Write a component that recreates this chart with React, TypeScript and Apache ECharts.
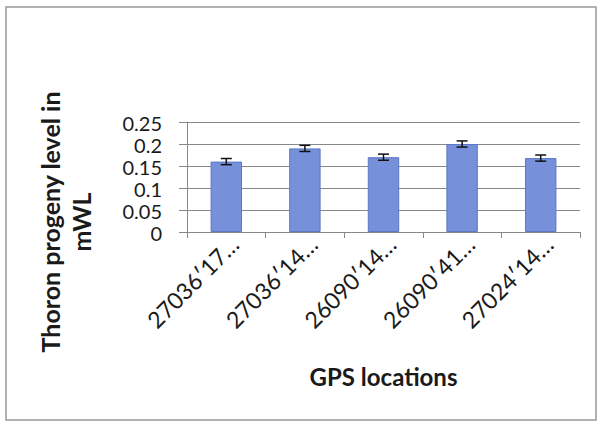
import React, { useEffect, useRef } from "react";
import * as echarts from "echarts";

const categories = ["27036′17…", "27036′14…", "26090′14…", "26090′41…", "27024′14…"];
const values = [0.16, 0.19, 0.17, 0.2, 0.168];
const errors = [0.007, 0.007, 0.007, 0.007, 0.007];
const yTickValues = [0, 0.05, 0.1, 0.15, 0.2, 0.25];
const yTickLabels = ["0", "0.05", "0.1", "0.15", "0.2", "0.25"];

export default function App() {
  const ref = useRef<HTMLDivElement>(null);
  useEffect(() => {
    if (!ref.current) return;
    const chart = echarts.init(ref.current, null, { renderer: "svg" });
    const errData = values.map((v, i) => [i, v - errors[i], v + errors[i]]);
    const baseGraphics: any[] = [
      {
        type: "rect",
        shape: { x: 6, y: 7, width: 590, height: 413 },
        style: { fill: "none", stroke: "#999", lineWidth: 1.5 },
      },
      {
        type: "text",
        x: 50,
        y: 222,
        rotation: Math.PI / 2,
        style: {
          text: "Thoron progeny level in",
          fontFamily: "Lato",
          fontWeight: "bold",
          fontSize: 25,
          fill: "#1a1a1a",
          align: "center",
          verticalAlign: "middle",
        },
      },
      {
        type: "text",
        x: 81,
        y: 222,
        rotation: Math.PI / 2,
        style: {
          text: "mWL",
          fontFamily: "Lato",
          fontWeight: "bold",
          fontSize: 25,
          fill: "#1a1a1a",
          align: "center",
          verticalAlign: "middle",
        },
      },
    ];
    chart.setOption({
      animation: false,
      backgroundColor: "#ffffff",
      grid: { left: 187, right: 19, top: 122, bottom: 192 },
      xAxis: {
        type: "category",
        data: categories,
        boundaryGap: true,
        axisLine: { lineStyle: { color: "#888", width: 1 } },
        axisTick: { show: true, length: 6, alignWithLabel: false, lineStyle: { color: "#888" } },
        axisLabel: {
          rotate: 45,
          interval: 0,
          margin: 0,
          verticalAlign: "top",
          fontFamily: "Lato",
          fontSize: 23,
          color: "#1a1a1a",
        },
        name: "GPS locations",
        nameLocation: "middle",
        nameGap: 132,
        nameTextStyle: { fontFamily: "Lato", fontWeight: "bold", fontSize: 24, color: "#1a1a1a" },
      },
      yAxis: {
        type: "value",
        min: yTickValues[0],
        max: yTickValues[yTickValues.length - 1],
        interval: yTickValues[1] - yTickValues[0],
        axisLine: { show: true, lineStyle: { color: "#888", width: 1 } },
        axisTick: { show: true, length: 8, lineStyle: { color: "#888" } },
        splitLine: { show: true, lineStyle: { color: "#888", width: 1 } },
        axisLabel: { show: false },
      },
      series: [
        {
          type: "bar",
          data: values,
          barWidth: "40%",
          itemStyle: { color: "#7690d9", borderColor: "#5c78c6", borderWidth: 1 },
        },
        {
          type: "custom",
          data: errData,
          z: 10,
          renderItem: (params: any, api: any) => {
            const x = api.value(0);
            const lo = api.coord([x, api.value(1)]);
            const hi = api.coord([x, api.value(2)]);
            const hw = 5.5;
            const style = { stroke: "#111", lineWidth: 1.5 };
            return {
              type: "group",
              children: [
                { type: "line", shape: { x1: lo[0], y1: lo[1], x2: hi[0], y2: hi[1] }, style },
                { type: "line", shape: { x1: hi[0] - hw, y1: hi[1], x2: hi[0] + hw, y2: hi[1] }, style },
                { type: "line", shape: { x1: lo[0] - hw, y1: lo[1], x2: lo[0] + hw, y2: lo[1] }, style },
              ],
            };
          },
        },
      ],
      graphic: baseGraphics,
    });
    const labelGraphics = yTickValues.map((v, i) => {
      const y = chart.convertToPixel({ yAxisIndex: 0 }, v) as number;
      return {
        type: "text",
        x: 162,
        y: y + 1,
        style: {
          text: yTickLabels[i],
          fontFamily: "Lato",
          fontSize: 20,
          lineHeight: 20,
          fill: "#1a1a1a",
          align: "right",
          verticalAlign: "middle",
        },
      };
    });
    chart.setOption({ graphic: [...baseGraphics, ...labelGraphics] }, { replaceMerge: ["graphic"] });
    return () => chart.dispose();
  }, []);
  return (
    <div
      ref={ref}
      style={{ position: "fixed", left: 0, top: 0, width: 599, height: 424 }}
    />
  );
}
